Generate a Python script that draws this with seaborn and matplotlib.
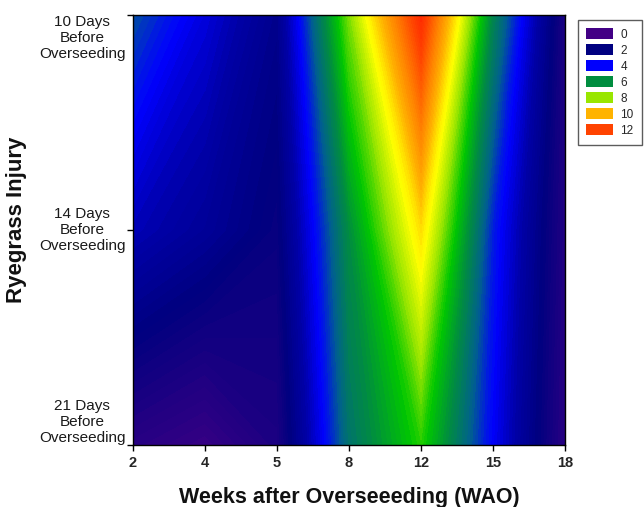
import numpy as np
import pandas as pd
import seaborn as sns
import matplotlib
matplotlib.use("Agg")
import matplotlib.pyplot as plt
from matplotlib.colors import LinearSegmentedColormap
from matplotlib.patches import Patch

# ---- data ----
weeks = ["2", "4", "5", "8", "12", "15", "18"]
timings = ["21 Days\nBefore\nOverseeding", "14 Days\nBefore\nOverseeding", "10 Days\nBefore\nOverseeding"]
injury_21d = [0.8, 0.4, 1.2, 5.4, 7.2, 3.9, 0.8]
injury_14d = [3.2, 2.6, 1.8, 6.0, 9.4, 4.3, 1.0]
injury_10d = [4.8, 3.6, 2.3, 7.8, 12.6, 5.8, 1.2]
legend_values = [0, 2, 4, 6, 8, 10, 12]

sns.set_theme(style="white")
plt.rcParams['font.family'] = ['Liberation Sans', 'DejaVu Sans']

stops = [
    (0.0, (0.26, 0.0, 0.52)),
    (2.0, (0.0, 0.0, 0.50)),
    (3.0, (0.0, 0.0, 0.66)),
    (4.0, (0.0, 0.0, 1.0)),
    (5.0, (0.0, 0.38, 0.55)),
    (6.0, (0.0, 0.55, 0.25)),
    (7.0, (0.0, 0.78, 0.0)),
    (8.0, (0.60, 0.90, 0.0)),
    (9.0, (1.0, 1.0, 0.0)),
    (10.0, (1.0, 0.70, 0.0)),
    (12.0, (1.0, 0.27, 0.0)),
    (13.0, (1.0, 0.10, 0.0)),
]
vmax = 13.0
cmap = LinearSegmentedColormap.from_list("inj", [(v / vmax, c) for v, c in stops])

Z = np.array([injury_21d, injury_14d, injury_10d])
xs = np.arange(len(weeks))
ys = np.arange(len(timings))
X, Y = np.meshgrid(xs, ys)

fig = plt.figure(figsize=(6.44, 5.07), dpi=100)
ax = fig.add_axes([133 / 644, 1 - 445 / 507, (565 - 133) / 644, (445 - 15) / 507])
levels = np.linspace(0, vmax, 105)
ax.contourf(X, Y, Z, levels=levels, cmap=cmap, vmin=0, vmax=vmax, extend="both")

ax.set_xlim(0, len(weeks) - 1)
ax.set_ylim(0, len(timings) - 1)
ax.set_xticks(xs)
ax.set_xticklabels(weeks, fontsize=10.5, fontweight="bold")
ax.set_yticks(ys)
ax.set_yticklabels(timings, fontsize=11, linespacing=1.2, ha="center", color="#1a1a1a")
vas = ["bottom", "center", "top"]
for lab, va in zip(ax.get_yticklabels(), vas):
    lab.set_va(va)
ax.tick_params(axis="y", pad=32.5)
ax.tick_params(axis="x", pad=4)
ax.tick_params(axis="both", direction="out", length=4, width=1, color="black",
               left=True, bottom=True)
for s in ax.spines.values():
    s.set_color("black")
    s.set_linewidth(1)

ax.set_xlabel("Weeks after Overseeeding (WAO)", fontsize=15.5, fontweight="bold",
              labelpad=12, color="#111111")
fig.text(17 / 644, 1 - 220 / 507, "Ryegrass Injury", rotation=90, fontsize=16,
         fontweight="bold", ha="center", va="center", color="#111111")

handles = [Patch(facecolor=cmap(v / vmax), edgecolor="none") for v in legend_values]
leg = fig.legend(handles, [str(v) for v in legend_values], loc="upper left",
                 bbox_to_anchor=(578 / 644, 1 - 20 / 507), fontsize=8.5,
                 frameon=True, fancybox=False, edgecolor="#333333",
                 handlelength=2.3, handleheight=1.05, labelspacing=0.3,
                 borderpad=0.68, handletextpad=0.6, borderaxespad=0)
leg.get_frame().set_linewidth(1)

fig.savefig("out.png", dpi=100)
